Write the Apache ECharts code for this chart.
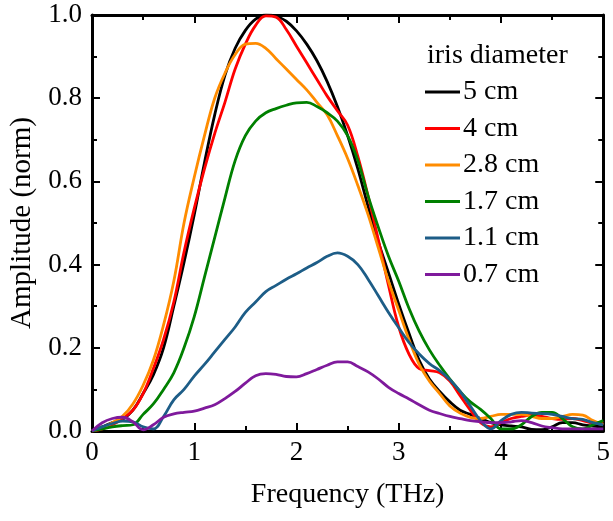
<!DOCTYPE html>
<html><head><meta charset="utf-8">
<script src="https://cdn.jsdelivr.net/npm/echarts@6/dist/echarts.min.js"></script>
<style>html,body{margin:0;padding:0;background:#fff}#c{width:613px;height:521px}</style>
</head><body><div id="c"></div>
<script>
const freq = [0.0,0.1,0.2,0.3,0.4,0.5,0.6,0.7,0.8,0.9,1.0,1.1,1.2,1.3,1.4,1.5,1.6,1.7,1.8,1.9,2.0,2.1,2.2,2.3,2.4,2.5,2.6,2.7,2.8,2.9,3.0,3.1,3.2,3.3,3.4,3.5,3.6,3.7,3.8,3.9,4.0,4.1,4.2,4.3,4.4,4.5,4.6,4.7,4.8,4.9,5.0];
const names = ['5 cm','4 cm','2.8 cm','1.7 cm','1.1 cm','0.7 cm'];
const colors = ['#000000','#ff0000','#ff8c00','#008000','#1d5d87','#7f1a9c'];
const amp5cm = [0,0.01,0.02,0.028,0.05,0.09,0.135,0.2,0.3,0.405,0.52,0.645,0.76,0.855,0.92,0.963,0.99,1.0,0.997,0.985,0.962,0.93,0.89,0.84,0.78,0.71,0.63,0.54,0.455,0.38,0.305,0.235,0.17,0.125,0.095,0.07,0.05,0.04,0.03,0.02,0.015,0.012,0.01,0.004,0.003,0.01,0.02,0.02,0.015,0.012,0.01];
const amp4cm = [0,0.005,0.015,0.03,0.05,0.09,0.15,0.22,0.31,0.43,0.535,0.63,0.715,0.79,0.87,0.93,0.975,0.998,0.995,0.965,0.925,0.885,0.845,0.805,0.77,0.735,0.66,0.565,0.46,0.35,0.25,0.185,0.15,0.145,0.14,0.12,0.085,0.05,0.02,0.01,0.02,0.03,0.035,0.038,0.035,0.03,0.028,0.03,0.025,0.02,0.02];
const amp28cm = [0,0.008,0.02,0.036,0.065,0.11,0.17,0.255,0.36,0.5,0.61,0.71,0.8,0.86,0.905,0.93,0.932,0.92,0.895,0.87,0.845,0.82,0.79,0.76,0.71,0.655,0.59,0.52,0.44,0.36,0.29,0.22,0.16,0.12,0.09,0.06,0.043,0.033,0.03,0.035,0.04,0.04,0.04,0.035,0.03,0.03,0.035,0.04,0.038,0.025,0.015];
const amp17cm = [0,0.005,0.01,0.013,0.015,0.04,0.065,0.1,0.14,0.2,0.275,0.37,0.465,0.56,0.65,0.71,0.745,0.765,0.775,0.783,0.789,0.79,0.78,0.765,0.745,0.71,0.65,0.565,0.49,0.42,0.36,0.295,0.24,0.195,0.158,0.125,0.095,0.07,0.052,0.03,0.005,0.005,0.015,0.035,0.045,0.045,0.03,0.01,0.005,0.015,0.025];
const amp11cm = [0,0.01,0.018,0.024,0.022,0.01,0.005,0.035,0.075,0.1,0.132,0.16,0.19,0.22,0.25,0.285,0.31,0.335,0.35,0.365,0.378,0.392,0.405,0.42,0.428,0.42,0.4,0.365,0.325,0.285,0.248,0.213,0.185,0.162,0.145,0.123,0.095,0.06,0.025,0.005,0.025,0.04,0.045,0.043,0.042,0.04,0.035,0.03,0.028,0.02,0.015];
const amp07cm = [0,0.02,0.03,0.033,0.022,0.003,0.015,0.033,0.041,0.045,0.048,0.055,0.063,0.078,0.095,0.115,0.133,0.138,0.136,0.131,0.13,0.138,0.148,0.158,0.166,0.166,0.155,0.142,0.125,0.105,0.09,0.077,0.063,0.05,0.042,0.035,0.03,0.025,0.022,0.02,0.02,0.022,0.025,0.02,0.012,0.008,0.005,0.005,0.005,0.005,0.005];
const xTicks = [0,1,2,3,4,5];
const yTicks = [0.0,0.2,0.4,0.6,0.8,1.0];
const legendTitle = 'iris diameter';
const xName = 'Frequency (THz)';
const yName = 'Amplitude (norm)';

const allAmps = [amp5cm, amp4cm, amp28cm, amp17cm, amp11cm, amp07cm];
const font = "'Liberation Serif', 'Times New Roman', serif";
const chart = echarts.init(document.getElementById('c'), null, {renderer:'canvas'});
const axisLine = {show:true, onZero:false, lineStyle:{color:'#000', width:3}};
const tickCommon = {show:true, inside:true, length:8, lineStyle:{color:'#000', width:2}};
const minorCommon = {show:true, splitNumber:2, length:5, lineStyle:{color:'#000', width:2}};
chart.setOption({
  animation:false,
  backgroundColor:'#fff',
  title:{text:legendTitle, left:427, top:42, padding:0, textStyle:{fontFamily:font, fontSize:28, fontWeight:'normal', color:'#000'}},
  legend:{
    data:names, orient:'vertical', left:425, top:78, padding:0, itemWidth:35, itemHeight:3, itemGap:8.5, icon:'rect',
    textStyle:{fontFamily:font, fontSize:28, color:'#000', padding:[0,0,0,-2]}
  },
  grid:{left:92, right:6, top:15, bottom:90},
  xAxis:[{
    type:'value', min:0, max:5, interval:1, position:'bottom',
    name:xName, nameLocation:'middle', nameGap:50,
    nameTextStyle:{fontFamily:font, fontSize:28, color:'#000'},
    axisLine:axisLine, axisTick:tickCommon, minorTick:minorCommon,
    axisLabel:{fontFamily:font, fontSize:27, color:'#000', margin:8, formatter:v=>xTicks.includes(v)?String(v):''},
    splitLine:{show:false}
  },{
    type:'value', min:0, max:5, interval:1, position:'top',
    axisLine:axisLine, axisTick:tickCommon, minorTick:minorCommon,
    axisLabel:{show:false}, splitLine:{show:false}
  }],
  yAxis:[{
    type:'value', min:0, max:1, interval:0.2, position:'left',
    name:yName, nameLocation:'middle', nameGap:47,
    nameTextStyle:{fontFamily:font, fontSize:29, color:'#000'},
    axisLine:axisLine, axisTick:tickCommon, minorTick:minorCommon,
    axisLabel:{fontFamily:font, fontSize:27, color:'#000', margin:10, formatter:v=>v.toFixed(1)},
    splitLine:{show:false}
  },{
    type:'value', min:0, max:1, interval:0.2, position:'right',
    axisLine:axisLine, axisTick:tickCommon, minorTick:minorCommon,
    axisLabel:{show:false}, splitLine:{show:false}
  }],
  series: names.map((n,i)=>({
    name:n, type:'line', xAxisIndex:0, yAxisIndex:0,
    data: freq.map((f,k)=>[f, allAmps[i][k]]),
    showSymbol:false, symbol:'none', smooth:0.4,
    lineStyle:{color:colors[i], width:2.8}, itemStyle:{color:colors[i]},
    clip:true
  }))
});
</script></body></html>
